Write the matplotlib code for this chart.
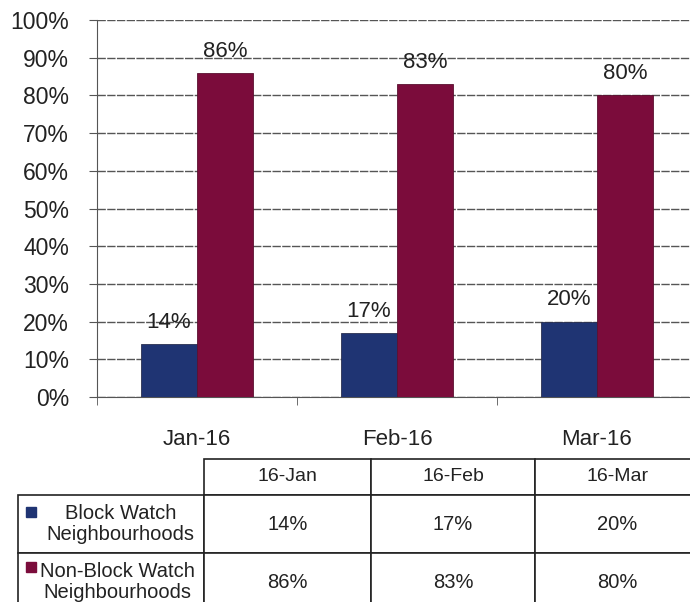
import numpy as np
import matplotlib
matplotlib.use("Agg")
import matplotlib.pyplot as plt
from matplotlib.patches import Rectangle

# data
months = ["Jan-16", "Feb-16", "Mar-16"]
table_months = ["16-Jan", "16-Feb", "16-Mar"]
series_names = ["Block Watch\nNeighbourhoods", "Non-Block Watch\nNeighbourhoods"]
block_watch = [14, 17, 20]
non_block_watch = [86, 83, 80]
y_ticks = list(range(0, 101, 10))

blue = "#1f3473"
red = "#7b0c3b"

plt.rcParams['font.family'] = ['Liberation Sans', 'DejaVu Sans']

W, H = 690, 602
fig = plt.figure(figsize=(W / 100, H / 100), dpi=100)

# -----------------------------
# bar chart
# -----------------------------
ax = fig.add_axes([97 / W, 1 - 397 / H, 600 / W, 377 / H])
x = np.arange(len(months))
width = 0.28
b1 = ax.bar(x - width / 2, block_watch, width, color=blue, edgecolor="#2a3050", lw=0.6, zorder=3)
b2 = ax.bar(x + width / 2, non_block_watch, width, color=red, edgecolor="#5a1030", lw=0.6, zorder=3)
ax.bar_label(b1, labels=[f"{v}%" for v in block_watch], padding=8, fontsize=16, color="#222")
ax.bar_label(b2, labels=[f"{v}%" for v in non_block_watch], padding=8, fontsize=16, color="#222")

ax.set_xlim(-0.5, 2.5)
ax.set_ylim(0, 100)
ax.set_yticks(y_ticks, [f"{v}%" for v in y_ticks])
ax.set_xticks(x, months)
ax.set_xticks(np.arange(len(months) + 1) - 0.5, minor=True)
ax.tick_params(axis='y', length=6, pad=14, labelsize=16.5, color="#555", labelcolor="#222")
ax.tick_params(axis='x', which='major', length=0, pad=23, labelsize=16, labelcolor="#222")
ax.tick_params(axis='x', which='minor', length=6, color="#555")

for s in ["top", "right"]:
    ax.spines[s].set_visible(False)
for s in ["left", "bottom"]:
    ax.spines[s].set_color("#555")
ax.yaxis.grid(True, color="#555", lw=1, ls=(0, (6, 1)))
ax.set_axisbelow(True)

# -----------------------------
# data table
# -----------------------------
tax = fig.add_axes([0, 0, 1, 1])
tax.axis('off')
cell_text = [[f"{v}%" for v in block_watch], [f"{v}%" for v in non_block_watch]]
tbl = tax.table(cellText=cell_text, rowLabels=series_names, colLabels=table_months,
                cellLoc='center', rowLoc='right',
                bbox=[204 / W, 1 - 611 / H, 496 / W, 152 / H])
tbl.auto_set_font_size(False)
# keep the row label column at a fixed width
tbl._autoColumns = [c for c in tbl._autoColumns if c != -1]
col_w = {-1: 186, 0: 167, 1: 164, 2: 165}
for (r, c), cell in tbl.get_celld().items():
    cell.set_height((36 if r == 0 else 58) / H)
    cell.set_width(col_w[c] / W)
    cell.set_edgecolor("#222")
    cell.set_linewidth(1.2)
    txt = cell.get_text()
    txt.set_fontsize(14 if r == 0 else 14.5)
    txt.set_color("#222")
    txt.set_linespacing(1.1)
    if c == -1:
        cell.PAD = 0.05
        txt.set_multialignment('center')

# legend keys inside the row labels
for i, col in enumerate([blue, red]):
    top = 507 + i * 55
    tax.add_patch(Rectangle((26 / W, 1 - (top + 10) / H), 10 / W, 10 / H,
                            transform=tax.transAxes, color=col))

fig.savefig("out.png", dpi=100)
